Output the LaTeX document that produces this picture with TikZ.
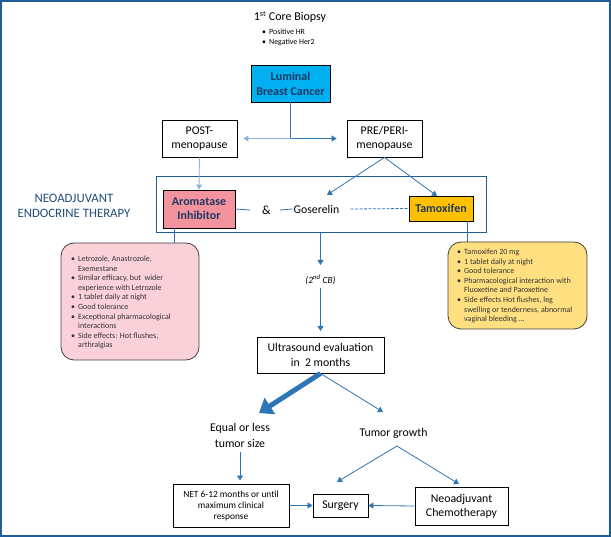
\documentclass[tikz,border=0pt]{standalone}
\usepackage{fontspec}
\setmainfont{Carlito}
\usetikzlibrary{arrows.meta,calc}
\definecolor{borderblue}{HTML}{1F5C99}
\definecolor{arrowblue}{HTML}{2E75B6}
\definecolor{lumcyan}{HTML}{00B0F0}
\definecolor{arompink}{HTML}{F2939E}
\definecolor{tamyellow}{HTML}{FFC000}
\definecolor{notepink}{HTML}{FAD1D8}
\definecolor{noteyellow}{HTML}{FFDF80}
\definecolor{navytext}{HTML}{1F3864}
\definecolor{titleblue}{HTML}{1F4E79}
\definecolor{notetext}{HTML}{333333}
\tikzset{
  box/.style={draw=black, line width=0.9pt, align=center, inner sep=0pt},
  drugbox/.style={box, font=\fontsize{12}{14}\selectfont\bfseries, text=navytext},
  note/.style={draw=black!75, line width=0.8pt, rounded corners=13pt, inner sep=0pt},
  notetxt/.style={anchor=north west, align=left, inner sep=0pt, text=notetext, font=\fontsize{8}{9.55}\selectfont},
  arr/.style={draw=arrowblue, line width=0.8pt, -{Triangle[length=5pt,width=6pt]}},
  conn/.style={draw=arrowblue, line width=0.8pt},
  plain/.style={align=center, inner sep=0pt, font=\fontsize{12}{15}\selectfont}
}
\newcommand{\bul}{\makebox[7pt][l]{\textbullet}}
\newcommand{\cont}{\hspace*{7pt}}
\begin{document}
\begin{tikzpicture}[x=1pt,y=-1pt]
\useasboundingbox (0,0) rectangle (611,537);
\draw[borderblue, line width=2pt] (1,1) rectangle (610,536);

% title
\node[plain] (title) at (290,17) {1\textsuperscript{st} Core Biopsy};
\node[notetxt, text=black, font=\fontsize{7.9}{10}\selectfont] (bio) at (262,28.5)
  {\bul Positive HR\\ \bul Negative Her2};

% boxes
\node[box, fill=lumcyan, minimum width=79pt, minimum height=37pt,
      font=\fontsize{12}{15}\selectfont\bfseries, text=navytext] (lum) at (290.5,83.5) {Luminal\\Breast Cancer};
\node[box, minimum width=75pt, minimum height=37pt, font=\fontsize{11.8}{14.5}\selectfont] (post) at (199.5,138.5) {POST-\\menopause};
\node[box, minimum width=75pt, minimum height=37pt, font=\fontsize{11.8}{14.5}\selectfont] (pre) at (384.5,138.5) {PRE/PERI-\\menopause};

\node[draw=borderblue, line width=1pt, minimum width=330pt, minimum height=56pt, inner sep=0pt] (endo) at (321,205) {};
\node[plain, text=titleblue, font=\fontsize{12.8}{15}\selectfont] (nettitle) at (74,205.5) {NEOADJUVANT\\ENDOCRINE THERAPY};

\node[drugbox, fill=arompink, minimum width=72pt, minimum height=38pt] (arom) at (199,209) {Aromatase\\Inhibitor};
\node[plain, font=\fontsize{12.5}{14}\selectfont] (amp) at (266.5,210) {\&};
\node[plain, font=\fontsize{11.8}{14}\selectfont, inner sep=1pt] (gos) at (316.5,209) {Goserelin};
\node[drugbox, fill=tamyellow, minimum width=64pt, minimum height=25pt] (tam) at (441,208.5) {Tamoxifen};

% notes
\node[note, fill=notepink, minimum width=138pt, minimum height=117pt] (pnote) at (130,301.5) {};
\node[notetxt] (ptext) at (71,256)
 {\bul Letrozole, Anastrozole,\\
  \cont Exemestane\\
  \bul Similar efficacy, but\ \ wider\\
  \cont experience with Letrozole\\
  \bul 1 tablet daily at night\\
  \bul Good tolerance\\
  \bul Exceptional pharmacological\\
  \cont interactions\\
  \bul Side effects: Hot flushes,\\
  \cont arthralgias};
\node[note, fill=noteyellow, minimum width=139pt, minimum height=87pt] (ynote) at (517.5,285.5) {};
\node[notetxt] (ytext) at (457,249)
 {\bul Tamoxifen 20 mg\\
  \bul 1 tablet daily at night\\
  \bul Good tolerance\\
  \bul Pharmacological interaction with\\
  \cont Fluoxetine and Paroxetine\\
  \bul Side effects Hot flushes, leg\\
  \cont swelling or tenderness, abnormal\\
  \cont vaginal bleeding \dots};

\node[plain, font=\fontsize{9.5}{11}\selectfont\itshape] (cb2) at (320.5,280) {(2\textsuperscript{nd} CB)};
\node[box, minimum width=127pt, minimum height=36pt, font=\fontsize{11.8}{15}\selectfont] (us) at (320.5,355) {Ultrasound evaluation\\in\ \ 2 months};

\node[plain, font=\fontsize{11.8}{15.5}\selectfont] (eq) at (240,435.5) {Equal or less\\tumor size};
\node[plain, font=\fontsize{11.8}{14}\selectfont] (grow) at (393.5,433.5) {Tumor growth};

\node[box, minimum width=116pt, minimum height=43pt, font=\fontsize{9.4}{11}\selectfont] (netb) at (231,505.5) {NET 6-12 months or until\\maximum clinical\\response};
\node[box, minimum width=55pt, minimum height=23pt, font=\fontsize{11.8}{13}\selectfont] (surg) at (340.5,505.5) {Surgery};
\node[box, minimum width=93pt, minimum height=38pt, font=\fontsize{11.8}{14}\selectfont] (chemo) at (461.5,506) {Neoadjuvant\\Chemotherapy};

% tip coordinates
\coordinate (split) at (lum.south |- post.east);
\coordinate (gostip) at (327,195);
\coordinate (tamtip) at (437,196);
\coordinate (cbin) at (320.5,265);
\coordinate (cbout) at (320.5,288);
\coordinate (ustip) at (320.5,331);
\coordinate (eqtip) at (259,413);
\coordinate (grtip) at (383,412);
\coordinate (eqout) at (240,452);
\coordinate (nettip) at (240,480.5);
\coordinate (grsplit) at (397,446);
\coordinate (surgtip) at (337,482);
\coordinate (chemotip) at (459,484);

% connectors
\draw[conn] (lum.south) -- (split);
\draw[arr, draw=arrowblue!55] (split) -- ([xshift=6pt]post.east);
\draw[arr] (split) -- ([xshift=-10pt]pre.west);
\draw[arr, draw=arrowblue!55] (post.south) -- (arom.north);

\draw[arr] (pre.south) -- (gostip);
\draw[arr] (pre.south) -- (tamtip);

\draw[conn] (arom.east) -- ([xshift=-12pt]amp.west);
\draw[conn] ([xshift=9pt]amp.east) -- (gos.west);
\draw[conn, dashed, dash pattern=on 3pt off 1.5pt] ([xshift=10pt]gos.east) -- (tam.west);

\draw[conn] ([xshift=-25pt]arom.south) -- ([xshift=-25pt]arom.south |- pnote.north);
\draw[conn] ([xshift=-6pt]tam.south east) -- ([xshift=-6pt]tam.south east |- ynote.north);

\draw[arr] (endo.south -| cbin) -- (cbin);
\draw[arr] (cbout) -- (ustip);

\draw[draw=arrowblue, line width=5pt, -{Triangle[length=13pt,width=19pt]}] (us.south) -- (eqtip);
\draw[arr] (us.south) -- (grtip);

\draw[arr] (eqout) -- (nettip);
\draw[arr] (grsplit) -- (surgtip);
\draw[arr] (grsplit) -- (chemotip);

\draw[arr] (netb.east) -- (surg.west);
\draw[arr] (chemo.west) -- (surg.east);
\end{tikzpicture}
\end{document}
